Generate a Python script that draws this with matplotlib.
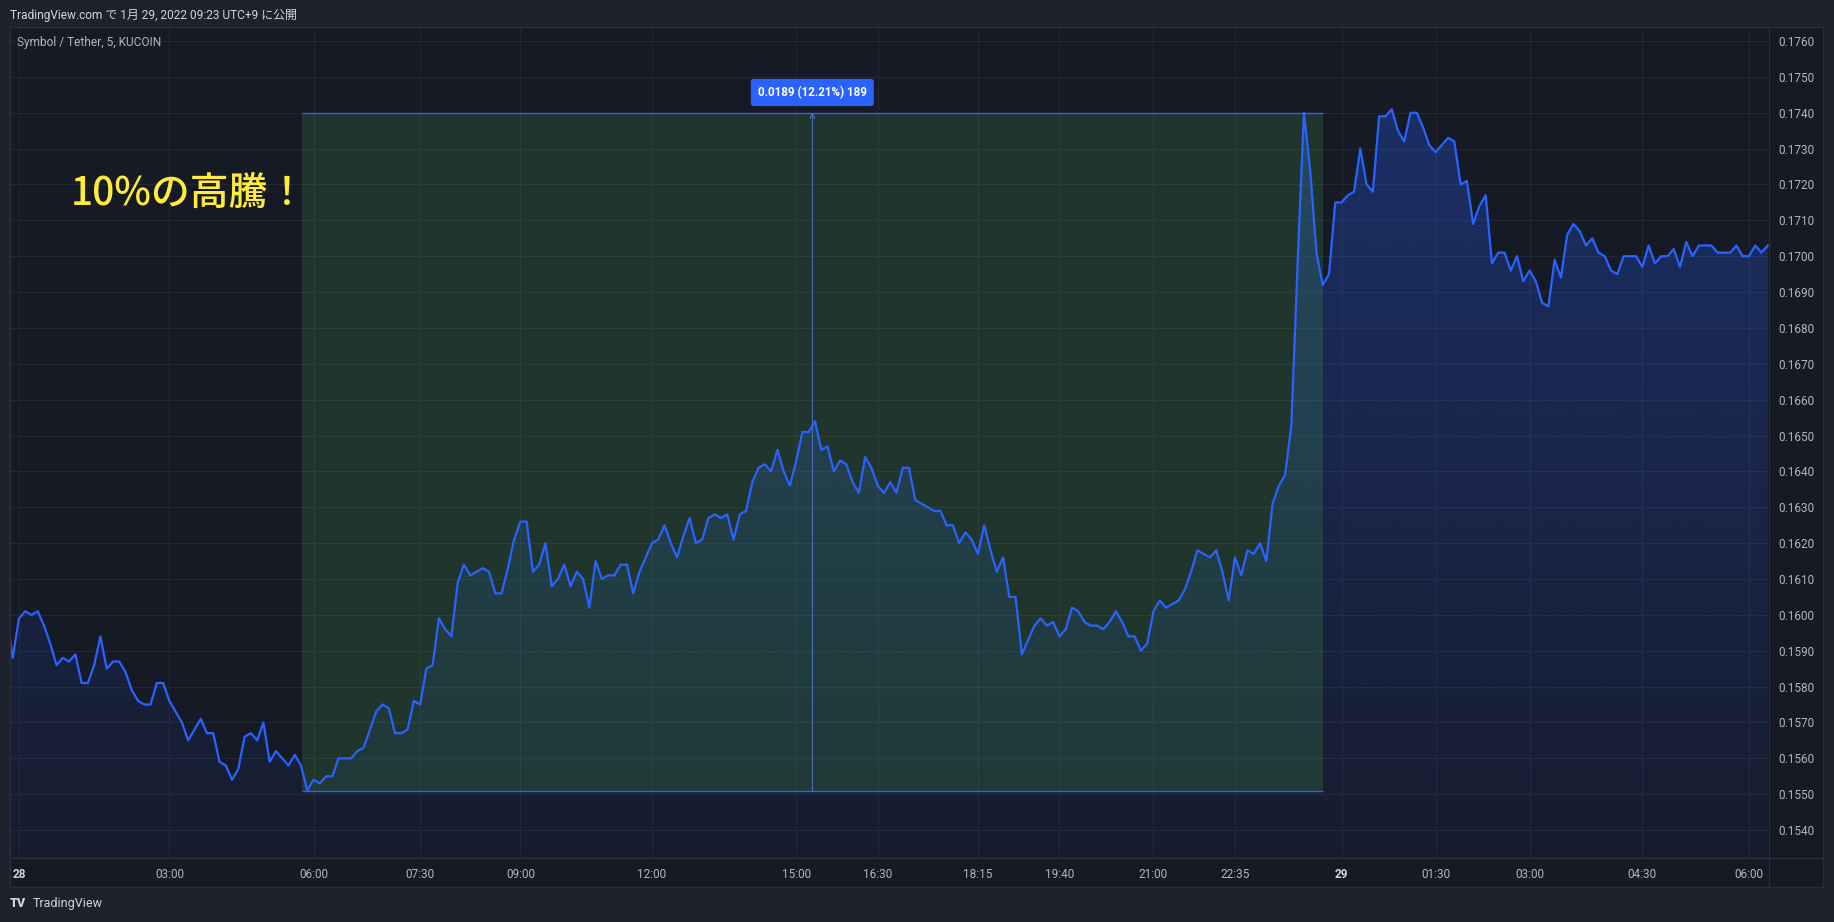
import numpy as np
import matplotlib.pyplot as plt
from matplotlib.colors import to_rgb
from matplotlib.lines import Line2D
from matplotlib.patches import PathPatch, Rectangle
from matplotlib.path import Path

plt.rcParams['font.family'] = ['Roboto', 'Noto Sans CJK JP', 'DejaVu Sans']

# 5 min closes, Symbol / Tether (KUCOIN), 28 -> 29 Jan 2022
# first value sits just left of the visible pane
prices = [
    0.1600,
    0.1588, 0.1599, 0.1601, 0.1600, 0.1601, 0.1597, 0.1592, 0.1586, 0.1588, 0.1587,
    0.1589, 0.1581, 0.1581, 0.1586, 0.1594, 0.1585, 0.1587, 0.1587, 0.1584, 0.1579,
    0.1576, 0.1575, 0.1575, 0.1581, 0.1581, 0.1576, 0.1573, 0.1570, 0.1565, 0.1568,
    0.1571, 0.1567, 0.1567, 0.1559, 0.1558, 0.1554, 0.1557, 0.1566, 0.1567, 0.1565,
    0.1570, 0.1559, 0.1562, 0.1560, 0.1558, 0.1561, 0.1558, 0.1551,
    # 06:00
    0.1554, 0.1553, 0.1555, 0.1555, 0.1560, 0.1560, 0.1560, 0.1562, 0.1563, 0.1568,
    0.1573, 0.1575, 0.1574, 0.1567, 0.1567, 0.1568, 0.1576, 0.1575, 0.1585, 0.1586,
    0.1599, 0.1596, 0.1594, 0.1609, 0.1614, 0.1611, 0.1612, 0.1613, 0.1612, 0.1606,
    0.1606, 0.1613, 0.1621, 0.1626, 0.1626, 0.1612, 0.1614, 0.1620, 0.1608, 0.1610,
    0.1614, 0.1608, 0.1612, 0.1610, 0.1602, 0.1615, 0.1610, 0.1611, 0.1611, 0.1614,
    0.1614, 0.1606, 0.1612, 0.1616, 0.1620, 0.1621, 0.1625, 0.1620, 0.1616, 0.1622,
    0.1627,
    0.1620, 0.1621, 0.1627, 0.1628, 0.1627, 0.1628, 0.1621, 0.1628, 0.1629, 0.1637,
    0.1641, 0.1642, 0.1640, 0.1646, 0.1640, 0.1636, 0.1643, 0.1651, 0.1651, 0.1654,
    0.1646, 0.1647, 0.1640, 0.1643, 0.1642, 0.1637, 0.1634, 0.1644, 0.1641, 0.1636,
    0.1634, 0.1637, 0.1634, 0.1641, 0.1641, 0.1632, 0.1631, 0.1630, 0.1629, 0.1629,
    0.1625, 0.1625, 0.1620, 0.1623, 0.1621, 0.1617, 0.1625, 0.1618, 0.1612, 0.1616,
    0.1605, 0.1605, 0.1589, 0.1593, 0.1597, 0.1599, 0.1597, 0.1598, 0.1594, 0.1596,
    0.1602, 0.1601, 0.1598, 0.1597, 0.1597, 0.1596, 0.1598,
    0.1601, 0.1598, 0.1594, 0.1594, 0.1590, 0.1592, 0.1601, 0.1604, 0.1602, 0.1603,
    0.1604, 0.1607, 0.1612, 0.1618, 0.1617, 0.1616, 0.1618, 0.1612, 0.1604, 0.1616,
    0.1611, 0.1618, 0.1617, 0.1620, 0.1615, 0.1631, 0.1636, 0.1639, 0.1653, 0.1698,
    0.1740, 0.1724, 0.1701, 0.1692, 0.1695, 0.1715, 0.1715, 0.1717, 0.1718, 0.1730,
    0.1720, 0.1718, 0.1739, 0.1739, 0.1741, 0.1735,
    0.1732, 0.1740, 0.1740, 0.1736, 0.1731, 0.1729, 0.1731, 0.1733, 0.1732, 0.1720,
    0.1721, 0.1709, 0.1714, 0.1717, 0.1698, 0.1701, 0.1701, 0.1696, 0.1700, 0.1693,
    0.1696, 0.1693, 0.1687, 0.1686, 0.1699, 0.1694, 0.1706, 0.1709, 0.1707, 0.1703,
    0.1705, 0.1701, 0.1700, 0.1696, 0.1695, 0.1700, 0.1700, 0.1700, 0.1697, 0.1703,
    0.1698, 0.1700, 0.1700, 0.1702, 0.1697, 0.1704, 0.1700, 0.1703, 0.1703, 0.1703,
    0.1701, 0.1701, 0.1701, 0.1703, 0.1700, 0.1700, 0.1703, 0.1701, 0.1703,
]
bars = np.arange(len(prices)) - 1

time_ticks = [1, 25, 48, 65, 81, 102, 125, 138, 154, 167, 182, 195, 212, 227, 242, 260, 277]
time_labels = ["28", "03:00", "06:00", "07:30", "09:00", "12:00", "15:00", "16:30",
               "18:15", "19:40", "21:00", "22:35", "29", "01:30", "03:00", "04:30", "06:00"]
day_labels = ["28", "29"]
price_ticks = [round(0.1540 + 0.001 * i, 4) for i in range(23)]

# date/price range drawing (bar units)
range_start, range_end = 46.15, 209.0
range_label = "0.0189 (12.21%) 189"

header = "TradingView.com で 1月 29, 2022 09:23 UTC+9 に公開"
legend = "Symbol / Tether, 5, KUCOIN"
note = "10%の高騰！"

frame_bg = '#1e222d'
pane_bg = '#161a25'
grid_c = '#232734'
border_c = '#2a2e39'
text_c = '#b2b5be'
blue = '#2962ff'

W, H = 1834, 922

def fx(x):
    return x / W

def fy(y):
    return 1 - y / H

fig = plt.figure(figsize=(W / 100, H / 100), dpi=100, facecolor=frame_bg)

left, right, top, bottom = 9.6, 1768.7, 26.7, 858
ax = fig.add_axes([fx(left), fy(bottom), (right - left) / W, (bottom - top) / H])
ax.set_facecolor(pane_bg)

x_lo, x_hi = -0.49, 280.15
y_lo, y_hi = 0.15322, 0.17640

# gradient area under the line
poly = np.column_stack([np.r_[bars[0], bars, bars[-1]], np.r_[y_lo, prices, y_lo]])
clip = PathPatch(Path(poly), facecolor='none', edgecolor='none')
ax.add_patch(clip)
grad = np.zeros((256, 1, 4))
grad[..., :3] = to_rgb(blue)
grad[:, 0, 3] = np.linspace(0.30, 0.04, 256)
im = ax.imshow(grad, extent=[bars[0], bars[-1], y_lo, max(prices)], origin='upper',
               aspect='auto', zorder=1, interpolation='bilinear')
im.set_clip_path(clip)

# measured range box
in_range = [p for b, p in zip(bars, prices) if range_start <= b <= range_end]
low, high = min(in_range), max(in_range)
ax.add_patch(Rectangle((range_start, low), range_end - range_start, high - low,
                       facecolor='#4caf50', alpha=0.19, edgecolor='none', zorder=2))
ax.hlines([low, high], range_start, range_end, color=blue, lw=1, zorder=3)
xc = (range_start + range_end) / 2
ax.annotate('', xy=(xc, high), xytext=(xc, low),
            arrowprops=dict(arrowstyle='->', color='#5b7fe0', lw=0.6, mutation_scale=9,
                            shrinkA=0, shrinkB=0), zorder=3)
ax.annotate(range_label, xy=(xc, high), xytext=(0, 14.6), textcoords='offset points',
            ha='center', va='center', fontsize=8.4, fontweight='bold', color='white',
            bbox=dict(boxstyle='round,pad=0.6,rounding_size=0.25', fc=blue, ec='none'),
            zorder=6)

ax.plot(bars, prices, color=blue, lw=1.6, zorder=4)

ax.set_xlim(x_lo, x_hi)
ax.set_ylim(y_lo, y_hi)
ax.set_xticks(time_ticks)
ax.set_xticklabels(time_labels)
ax.set_yticks(price_ticks)
ax.set_yticklabels([f"{v:.4f}" for v in price_ticks])
ax.yaxis.tick_right()
ax.tick_params(axis='y', length=0, pad=6.7, labelsize=8.5, labelcolor=text_c)
ax.tick_params(axis='x', length=0, pad=7, labelsize=8.5, labelcolor=text_c)
for lab in ax.get_xticklabels():
    if lab.get_text() in day_labels:
        lab.set_fontweight('bold')
        lab.set_color('#d1d4dc')
ax.grid(color=grid_c, lw=0.8)
ax.set_axisbelow(True)
for s in ax.spines.values():
    s.set_visible(False)

# price and time axis strips
fig.patches.append(Rectangle((fx(right), fy(887)), (1823.3 - right) / W, (887 - top) / H,
                             transform=fig.transFigure, facecolor=pane_bg, edgecolor='none', zorder=-1))
fig.patches.append(Rectangle((fx(left), fy(887)), (right - left) / W, (887 - bottom) / H,
                             transform=fig.transFigure, facecolor=pane_bg, edgecolor='none', zorder=-1))
fig.patches.append(Rectangle((fx(left), fy(887)), (1823.3 - left) / W, (887 - top) / H,
                             transform=fig.transFigure, facecolor='none', edgecolor=border_c, lw=1, zorder=10))
fig.add_artist(Line2D([fx(right), fx(right)], [fy(top), fy(887)], color=border_c, lw=1, zorder=10))
fig.add_artist(Line2D([fx(left), fx(1823.3)], [fy(bottom), fy(bottom)], color=border_c, lw=1, zorder=10))

fig.text(fx(10), fy(15), header, fontsize=8.6, color='#d1d4dc', va='center', ha='left')
fig.text(fx(17), fy(42.5), legend, fontsize=8.6, color=text_c, va='center', ha='left')
fig.text(fx(71), fy(195), note, fontsize=28, color='#ffeb3b', va='center', ha='left',
         family=['Noto Sans CJK JP', 'DejaVu Sans'], fontweight='medium')
fig.text(fx(10), fy(903), "TV", fontsize=9, color='#d1d4dc', va='center', ha='left',
         fontweight='heavy')
fig.text(fx(33), fy(903), "TradingView", fontsize=9, color='#d1d4dc', va='center', ha='left')

fig.savefig('out.png', dpi=100, facecolor=frame_bg)
